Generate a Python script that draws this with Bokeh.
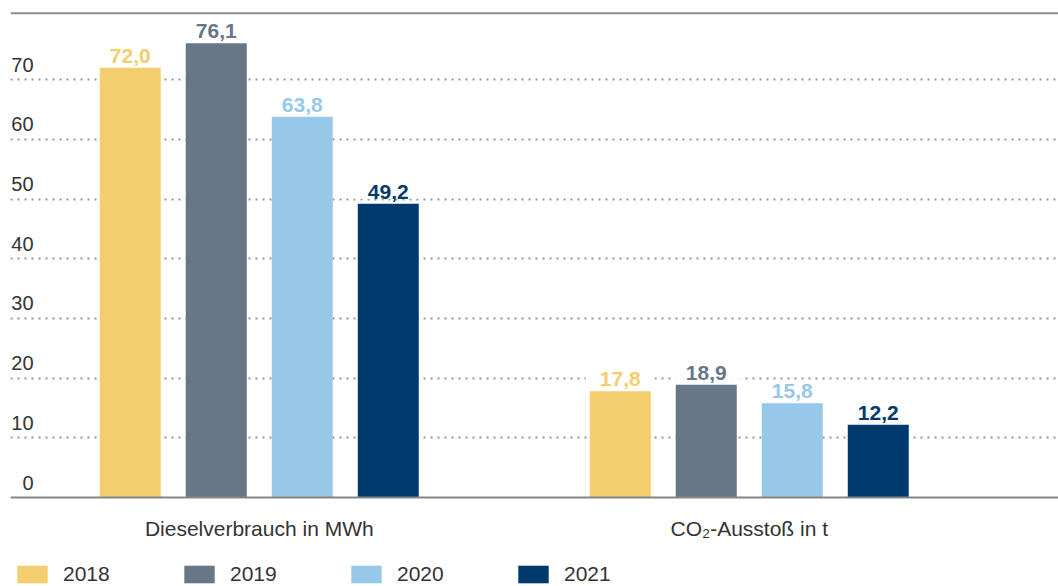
from bokeh.plotting import figure
from bokeh.models import (ColumnDataSource, Range1d, FixedTicker, Grid, Span,
                          Legend, LegendItem)
from bokeh.transform import dodge
from bokeh.core.properties import value
from bokeh.embed import file_html
from bokeh.resources import INLINE

# ---- data ----
categories = ["Dieselverbrauch in MWh", "CO\u2082-Aussto\u00df in t"]
years = ["2018", "2019", "2020", "2021"]
v2018 = [72.0, 17.8]
v2019 = [76.1, 18.9]
v2020 = [63.8, 15.8]
v2021 = [49.2, 12.2]
y_ticks = [0, 10, 20, 30, 40, 50, 60, 70]
y_tick_labels = ["0", "10", "20", "30", "40", "50", "60", "70"]

colors = ["#F4CE6E", "#677788", "#98C8E9", "#003A6C"]
series = [v2018, v2019, v2020, v2021]

FONT = "Liberation Sans"
TXT = "#333333"
X0, X1 = -0.5077, 1.6311
Y0, Y1 = -14.91, 81.6

p = figure(width=1058, height=586,
           x_range=Range1d(X0, X1), y_range=Range1d(Y0, Y1),
           output_backend="svg", toolbar_location=None,
           x_axis_location=None, y_axis_location=None,
           min_border_left=10, min_border_right=0,
           min_border_top=10, min_border_bottom=0)
p.outline_line_color = None
p.background_fill_color = "white"
p.border_fill_color = "white"
for g in p.grid:
    g.visible = False

# dotted horizontal gridlines
grid = Grid(dimension=1, ticker=FixedTicker(ticks=y_ticks[1:]),
            grid_line_color="#959595", grid_line_width=2,
            grid_line_dash="2 5")
p.add_layout(grid)

# top rule and baseline
p.add_layout(Span(location=81.12, dimension="width",
                  line_color="#8a8a8a", line_width=2))
p.add_layout(Span(location=0, dimension="width",
                  line_color="#858585", line_width=2))

# category labels under the baseline
csrc = ColumnDataSource(dict(x=[0, 1], y=[0, 0], t=categories))
p.text(x="x", y="y", text="t", source=csrc, y_offset=31,
       text_align="center", text_baseline="middle",
       text_font=value(FONT), text_font_size="21px", text_color=TXT)

# y tick labels drawn as text above gridlines
ysrc = ColumnDataSource(dict(x=[X0] * len(y_ticks), y=y_ticks,
                             t=y_tick_labels))
p.text(x="x", y="y", text="t", source=ysrc, x_offset=23, y_offset=-15,
       text_align="right", text_baseline="middle",
       text_font=value(FONT), text_font_size="20px", text_color=TXT)

bar_w = 61 / 490
step = 86 / 490
offsets = [-1.5 * step, -0.5 * step, 0.5 * step, 1.5 * step]

items = []
for yr, vals, col, off in zip(years, series, colors, offsets):
    src = ColumnDataSource(dict(
        x=[0, 1], top=vals,
        lbl=[f"{v:.1f}".replace(".", ",") for v in vals]))
    r = p.vbar(x=dodge("x", off), top="top", width=bar_w, bottom=0,
               source=src, fill_color=col, line_color=None)
    p.text(x=dodge("x", off), y="top", text="lbl", source=src,
           y_offset=-5, text_align="center", text_baseline="bottom",
           text_font=value(FONT), text_font_size="21px",
           text_font_style="bold", text_color=col,
           background_fill_color="white", padding=(14, 0))
    items.append(LegendItem(label=yr, renderers=[r]))

legend = Legend(items=items, orientation="horizontal",
                location=(3, 0),
                glyph_width=38, glyph_height=22, label_height=22,
                label_width=100, label_standoff=12, spacing=17,
                padding=0, margin=0, border_line_color=None,
                background_fill_alpha=0,
                label_text_font=FONT, label_text_font_size="21px",
                label_text_color=TXT)
p.add_layout(legend, "center")

open("out.html", "w").write(file_html(p, INLINE))
